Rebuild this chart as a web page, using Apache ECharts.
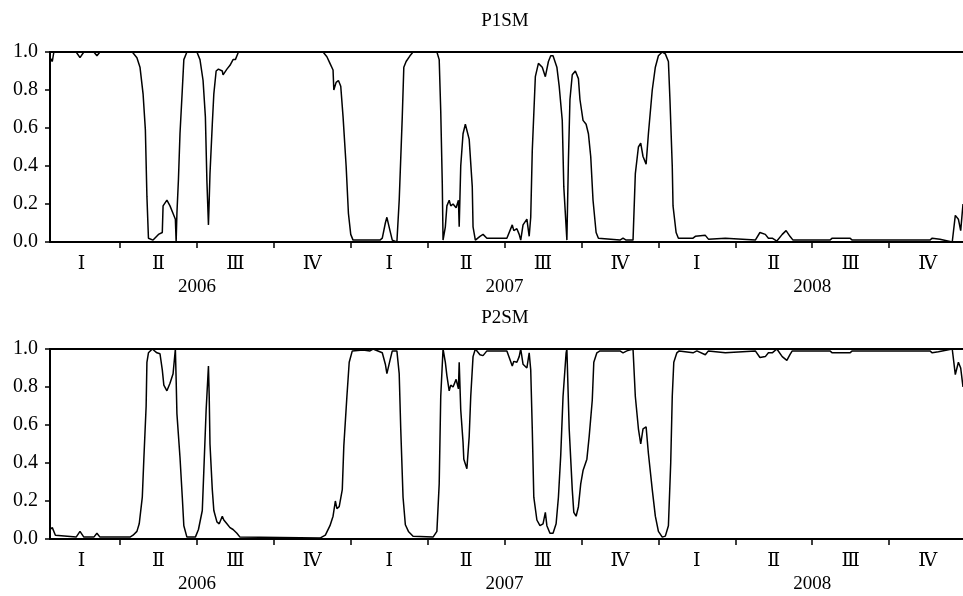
<!DOCTYPE html>
<html>
<head>
<meta charset="utf-8">
<script src="https://cdn.jsdelivr.net/npm/echarts@6/dist/echarts.min.js"></script>
<style>html,body{margin:0;padding:0;background:#fff;}#c{width:963px;height:596px;}</style>
</head>
<body>
<div id="c"></div>
<script>
// x = time in quarters since start of 2006 (0 = 2006 Q1 start)
const quarterNames = ['Ⅰ', 'Ⅱ', 'Ⅲ', 'Ⅳ'];
const years = ['2006', '2007', '2008'];
const quarterTicks = [1, 2, 3, 4, 5, 6, 7, 8, 9, 10, 11];
const quarterMids = [0.5, 1.5, 2.5, 3.5, 4.5, 5.5, 6.5, 7.5, 8.5, 9.5, 10.5, 11.5];
const yearMids = [2, 6, 10];
const panelTitles = ['P1SM', 'P2SM'];

const p1Data = [[0.09,0.97],[0.12,0.95],[0.14,1.0],[0.43,1.0],[0.48,0.97],[0.53,1.0],[0.66,1.0],[0.70,0.98],[0.74,1.0],[1.16,1.0],[1.22,0.97],[1.26,0.92],[1.30,0.78],[1.33,0.59],[1.35,0.24],[1.37,0.02],[1.43,0.01],[1.50,0.04],[1.55,0.05],[1.56,0.19],[1.61,0.22],[1.65,0.19],[1.69,0.15],[1.72,0.12],[1.73,0.0],[1.74,0.15],[1.76,0.33],[1.78,0.57],[1.81,0.80],[1.83,0.96],[1.87,1.0],[2.00,1.0],[2.04,0.96],[2.08,0.85],[2.11,0.66],[2.13,0.32],[2.15,0.09],[2.16,0.22],[2.17,0.36],[2.20,0.62],[2.22,0.78],[2.25,0.90],[2.28,0.91],[2.33,0.90],[2.34,0.88],[2.39,0.91],[2.43,0.93],[2.47,0.96],[2.50,0.96],[2.54,1.0],[3.64,1.0],[3.69,0.975],[3.73,0.94],[3.77,0.905],[3.78,0.80],[3.81,0.84],[3.84,0.85],[3.87,0.82],[3.90,0.66],[3.94,0.40],[3.97,0.15],[4.00,0.04],[4.03,0.01],[4.38,0.01],[4.41,0.02],[4.45,0.10],[4.47,0.13],[4.51,0.06],[4.54,0.01],[4.60,0.0],[4.63,0.22],[4.67,0.66],[4.69,0.92],[4.72,0.95],[4.77,0.98],[4.81,1.0],[5.12,1.0],[5.15,0.96],[5.17,0.69],[5.19,0.31],[5.20,0.01],[5.23,0.08],[5.25,0.19],[5.28,0.22],[5.30,0.19],[5.33,0.20],[5.37,0.18],[5.40,0.22],[5.41,0.08],[5.43,0.40],[5.46,0.57],[5.49,0.62],[5.51,0.63],[5.54,0.54],[5.58,0.29],[5.59,0.08],[5.62,0.01],[5.68,0.03],[5.72,0.04],[5.77,0.02],[6.03,0.02],[6.10,0.09],[6.12,0.06],[6.16,0.07],[6.19,0.04],[6.21,0.01],[6.24,0.09],[6.29,0.12],[6.32,0.03],[6.34,0.13],[6.36,0.48],[6.40,0.87],[6.44,0.94],[6.49,0.92],[6.53,0.87],[6.57,0.95],[6.60,0.98],[6.63,0.98],[6.68,0.92],[6.71,0.82],[6.75,0.64],[6.77,0.29],[6.81,0.01],[6.83,0.43],[6.85,0.75],[6.88,0.88],[6.92,0.90],[6.96,0.86],[6.98,0.75],[7.02,0.64],[7.06,0.62],[7.09,0.57],[7.12,0.45],[7.15,0.22],[7.19,0.05],[7.22,0.02],[7.50,0.01],[7.54,0.02],[7.58,0.01],[7.67,0.01],[7.70,0.36],[7.74,0.50],[7.77,0.52],[7.80,0.45],[7.84,0.41],[7.87,0.57],[7.92,0.80],[7.96,0.92],[8.00,0.98],[8.05,1.0],[8.09,0.99],[8.13,0.95],[8.15,0.75],[8.18,0.40],[8.19,0.19],[8.23,0.05],[8.26,0.02],[8.45,0.02],[8.48,0.03],[8.50,0.02],[8.61,0.035],[8.65,0.015],[8.87,0.02],[8.89,0.01],[9.26,0.01],[9.32,0.05],[9.39,0.04],[9.43,0.02],[9.48,0.02],[9.54,0.005],[9.61,0.04],[9.66,0.06],[9.71,0.03],[9.75,0.01],[10.23,0.01],[10.26,0.02],[10.49,0.02],[10.52,0.01],[11.53,0.01],[11.56,0.02],[11.66,0.015],[11.82,0.0],[11.86,0.14],[11.90,0.12],[11.93,0.06],[11.96,0.20]];

const p2Data = [[0.09,0.05],[0.12,0.06],[0.16,0.02],[0.43,0.01],[0.48,0.04],[0.53,0.01],[0.66,0.01],[0.70,0.03],[0.74,0.01],[1.13,0.01],[1.17,0.02],[1.22,0.04],[1.25,0.08],[1.29,0.22],[1.31,0.42],[1.34,0.70],[1.35,0.93],[1.37,0.98],[1.42,1.0],[1.48,0.98],[1.52,0.975],[1.55,0.89],[1.57,0.81],[1.61,0.78],[1.65,0.82],[1.69,0.87],[1.72,1.0],[1.73,0.84],[1.74,0.66],[1.78,0.43],[1.81,0.22],[1.83,0.07],[1.87,0.01],[1.98,0.01],[2.02,0.05],[2.07,0.15],[2.09,0.36],[2.12,0.68],[2.15,0.91],[2.16,0.75],[2.17,0.50],[2.20,0.26],[2.22,0.15],[2.26,0.09],[2.29,0.08],[2.33,0.12],[2.35,0.10],[2.39,0.08],[2.43,0.06],[2.47,0.05],[2.52,0.03],[2.56,0.01],[3.60,0.005],[3.67,0.02],[3.73,0.07],[3.77,0.12],[3.80,0.20],[3.82,0.16],[3.85,0.17],[3.89,0.26],[3.91,0.49],[3.95,0.75],[3.98,0.93],[4.02,0.99],[4.03,1.0],[4.16,0.995],[4.25,0.99],[4.29,1.0],[4.41,0.98],[4.45,0.92],[4.47,0.87],[4.51,0.94],[4.54,0.99],[4.60,0.99],[4.63,0.87],[4.65,0.58],[4.68,0.22],[4.71,0.075],[4.75,0.04],[4.81,0.015],[5.07,0.01],[5.12,0.04],[5.15,0.29],[5.17,0.75],[5.20,1.0],[5.23,0.93],[5.25,0.86],[5.28,0.78],[5.30,0.81],[5.33,0.80],[5.37,0.84],[5.40,0.79],[5.41,0.93],[5.43,0.68],[5.46,0.51],[5.47,0.42],[5.51,0.37],[5.54,0.54],[5.56,0.75],[5.59,0.96],[5.62,1.0],[5.68,0.97],[5.72,0.965],[5.77,0.99],[6.03,0.99],[6.10,0.91],[6.12,0.935],[6.16,0.93],[6.19,0.96],[6.21,1.0],[6.24,0.92],[6.29,0.90],[6.32,0.98],[6.34,0.89],[6.36,0.58],[6.38,0.22],[6.42,0.10],[6.46,0.07],[6.50,0.08],[6.53,0.14],[6.55,0.07],[6.59,0.03],[6.63,0.03],[6.67,0.08],[6.70,0.22],[6.73,0.44],[6.76,0.75],[6.80,0.98],[6.81,1.0],[6.84,0.58],[6.88,0.26],[6.90,0.14],[6.93,0.12],[6.96,0.17],[6.99,0.29],[7.02,0.36],[7.07,0.42],[7.10,0.54],[7.14,0.73],[7.16,0.93],[7.20,0.98],[7.24,0.99],[7.50,0.99],[7.54,0.98],[7.59,0.99],[7.67,1.0],[7.70,0.75],[7.74,0.58],[7.77,0.50],[7.80,0.58],[7.84,0.59],[7.87,0.45],[7.92,0.26],[7.96,0.12],[8.00,0.04],[8.05,0.01],[8.09,0.015],[8.13,0.07],[8.16,0.40],[8.18,0.75],[8.20,0.93],[8.24,0.98],[8.27,0.99],[8.45,0.98],[8.50,0.99],[8.61,0.97],[8.65,0.99],[8.87,0.98],[8.89,0.99],[9.26,0.99],[9.32,0.955],[9.39,0.96],[9.43,0.98],[9.48,0.98],[9.54,1.0],[9.61,0.96],[9.67,0.94],[9.71,0.97],[9.74,0.99],[10.23,0.99],[10.26,0.98],[10.49,0.98],[10.52,0.99],[11.53,0.99],[11.56,0.98],[11.64,0.985],[11.82,1.0],[11.86,0.865],[11.90,0.93],[11.93,0.90],[11.96,0.80]];

const panels = [p1Data, p2Data];
const xMin = 0.09, xMax = 11.96;

const FONT = '"Liberation Serif", "Times New Roman", serif';
const ROMAN_FONT = '"DejaVu Serif", "Liberation Serif", serif';
const black = '#000';
const gridTops = [52, 349];

const grids = [], xAxes = [], yAxes = [], series = [], titles = [];
panels.forEach((data, i) => {
  grids.push({left: 50, right: 0, top: gridTops[i], height: 190, containLabel: false, outerBoundsMode: 'none'});
  // bottom axis with quarter ticks and numerals
  xAxes.push({
    type: 'value', gridIndex: i, position: 'bottom', min: xMin, max: xMax,
    axisLine: {show: true, onZero: false, lineStyle: {color: black, width: 2}},
    axisTick: {show: true, customValues: quarterTicks, length: 6, inside: false, lineStyle: {color: black, width: 1.5}},
    axisLabel: {show: true, customValues: quarterMids, margin: 13, color: black, fontFamily: ROMAN_FONT, fontSize: 19,
      formatter: v => quarterNames[Math.floor(v) % 4]},
    splitLine: {show: false}
  });
  // year labels
  xAxes.push({
    type: 'value', gridIndex: i, position: 'bottom', min: xMin, max: xMax,
    axisLine: {show: false}, axisTick: {show: false},
    axisLabel: {show: true, customValues: yearMids, margin: 36, color: black, fontFamily: FONT, fontSize: 19,
      formatter: v => years[Math.round((v - 2) / 4)]},
    splitLine: {show: false}
  });
  // top frame line
  xAxes.push({
    type: 'value', gridIndex: i, position: 'top', min: xMin, max: xMax,
    axisLine: {show: true, onZero: false, lineStyle: {color: black, width: 2}},
    axisTick: {show: false}, axisLabel: {show: false}, splitLine: {show: false}
  });
  yAxes.push({
    type: 'value', gridIndex: i, min: 0, max: 1, interval: 0.2,
    axisLine: {show: true, onZero: false, lineStyle: {color: black, width: 2}},
    axisTick: {show: true, length: 5, lineStyle: {color: black, width: 1.5}},
    axisLabel: {color: black, fontFamily: FONT, fontSize: 20, margin: 12, formatter: v => v.toFixed(1)},
    splitLine: {show: false}
  });
  series.push({
    type: 'line', xAxisIndex: i * 3, yAxisIndex: i, data: data, showSymbol: false, symbol: 'none',
    lineStyle: {color: black, width: 1.5}, animation: false, clip: true
  });
  titles.push({text: panelTitles[i], left: 505, textAlign: 'center', top: gridTops[i] - 40, padding: 0,
    textStyle: {color: black, fontFamily: FONT, fontSize: 19, fontWeight: 'normal'}});
});

const chart = echarts.init(document.getElementById('c'), null, {renderer: 'canvas'});
chart.setOption({
  animation: false,
  backgroundColor: '#fff',
  title: titles,
  grid: grids,
  xAxis: xAxes,
  yAxis: yAxes,
  series: series
});
</script>
</body>
</html>
